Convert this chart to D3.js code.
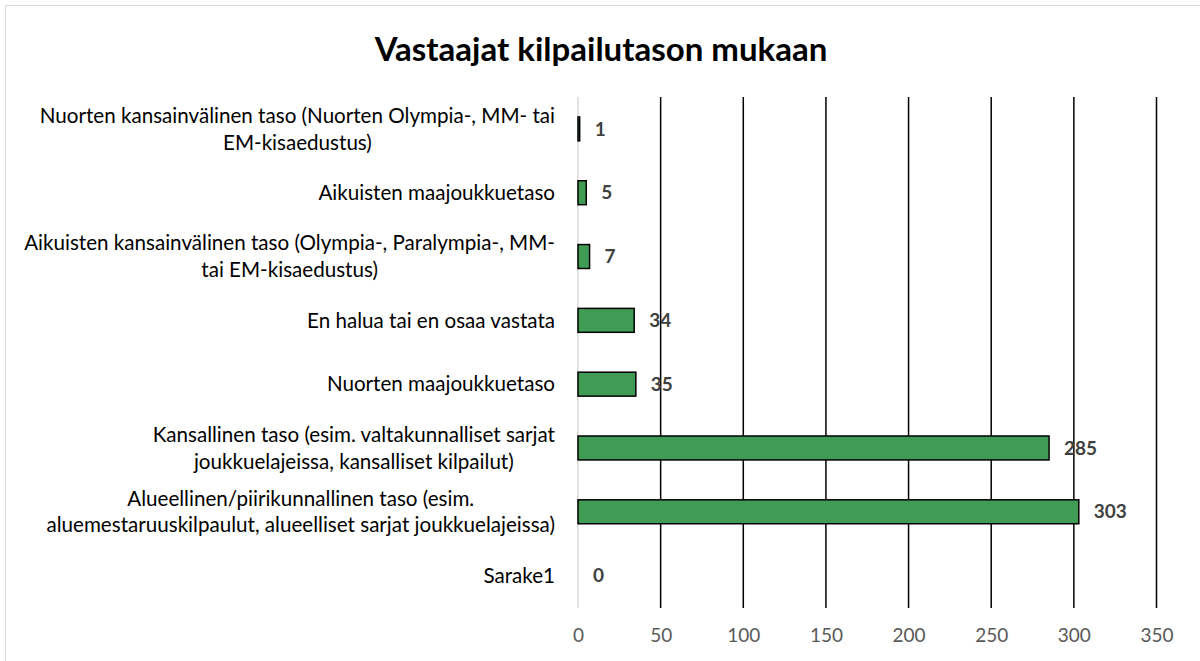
<!DOCTYPE html>
<html>
<head>
<meta charset="utf-8">
<script src="https://cdn.jsdelivr.net/npm/d3@7"></script>
<style>
  body { margin: 0; background: #fff; }
  svg { display: block; font-family: Lato, "Open Sans", sans-serif; }
</style>
</head>
<body>
<svg id="chart"></svg>
<script>
var categories = [
    ["Nuorten kansainvälinen taso (Nuorten Olympia-, MM- tai", "EM-kisaedustus)"],
    ["Aikuisten maajoukkuetaso"],
    ["Aikuisten kansainvälinen taso (Olympia-, Paralympia-, MM-", "tai EM-kisaedustus)"],
    ["En halua tai en osaa vastata"],
    ["Nuorten maajoukkuetaso"],
    ["Kansallinen taso (esim. valtakunnalliset sarjat", "joukkuelajeissa, kansalliset kilpailut)"],
    ["Alueellinen/piirikunnallinen taso (esim.", "aluemestaruuskilpaulut, alueelliset sarjat joukkuelajeissa)"],
    ["Sarake1"]
];
var values = [1, 5, 7, 34, 35, 285, 303, 0];
var xTicks = [0, 50, 100, 150, 200, 250, 300, 350];
var title = "Vastaajat kilpailutason mukaan";

var width = 1200,
    height = 661,
    margin = {top: 97, right: 43, bottom: 53, left: 578};

var svg = d3.select("#chart")
    .attr("width", width)
    .attr("height", height);

// chart frame
svg.append("rect")
    .attr("x", 5.5).attr("y", 5.5)
    .attr("width", width + 20).attr("height", height + 20)
    .attr("fill", "#fff")
    .attr("stroke", "#d9d9d9");

svg.append("text")
    .attr("x", 601)
    .attr("y", 61)
    .attr("text-anchor", "middle")
    .style("font-size", "33px")
    .style("font-weight", "bold")
    .attr("fill", "#000")
    .text(title);

var innerwidth = width - margin.left - margin.right,
    innerheight = height - margin.top - margin.bottom;

var g = svg.append("g")
    .attr("transform", "translate(" + margin.left + "," + margin.top + ")");

var xScale = d3.scaleLinear()
    .domain([0, 350])
    .range([0, innerwidth - 0.5]);

var yScale = d3.scaleBand()
    .domain(d3.range(categories.length))
    .range([0, innerheight - 0.5])
    .paddingInner(0.625)
    .paddingOuter(0.3125);

// gridlines
g.selectAll(".grid")
    .data(xTicks.slice(1))
    .enter().append("line")
    .attr("class", "grid")
    .attr("x1", function(d) { return xScale(d); })
    .attr("x2", function(d) { return xScale(d); })
    .attr("y1", 0)
    .attr("y2", innerheight)
    .attr("stroke", "#000")
    .attr("stroke-width", 1.5);

// x axis labels
var xAxis = d3.axisBottom(xScale)
    .tickValues(xTicks)
    .tickSize(0)
    .tickPadding(21);

var xg = g.append("g")
    .attr("transform", "translate(0," + innerheight + ")")
    .call(xAxis);
xg.select(".domain").remove();
xg.selectAll("text")
    .style("font-size", "19px")
    .style("font-family", "Lato, sans-serif")
    .attr("fill", "#595959");

// vertical axis line
g.append("line")
    .attr("x1", 0).attr("x2", 0)
    .attr("y1", 0).attr("y2", innerheight)
    .attr("stroke", "#d9d9d9")
    .attr("stroke-width", 1.5);

// bars (the zero value draws nothing)
g.selectAll(".bar")
    .data(values)
    .enter().append("rect")
    .attr("class", "bar")
    .attr("x", xScale(0))
    .attr("y", function(d, i) { return yScale(i); })
    .attr("width", function(d) { return xScale(d) - xScale(0); })
    .attr("height", yScale.bandwidth())
    .attr("fill", "#409b55")
    .attr("stroke", "#000")
    .attr("stroke-width", 1.5)
    .style("display", function(d) { return d > 0 ? null : "none"; });

// value labels
g.selectAll(".val")
    .data(values)
    .enter().append("text")
    .attr("class", "val")
    .attr("x", function(d) { return xScale(d) + 15; })
    .attr("y", function(d, i) { return yScale(i) + yScale.bandwidth() / 2; })
    .attr("dy", "0.35em")
    .style("font-size", "19px")
    .style("font-weight", "bold")
    .attr("fill", "#404040")
    .text(function(d) { return d; });

// category labels, multi-line blocks centred on each other, right aligned
var lineGap = 27,
    labelRight = -23;
var cat = g.selectAll(".cat")
    .data(categories)
    .enter().append("g")
    .attr("class", "cat")
    .attr("transform", function(d, i) {
        return "translate(0," + (yScale(i) + yScale.bandwidth() / 2) + ")";
    });

cat.each(function(lines) {
    var el = d3.select(this);
    var texts = el.selectAll("text")
        .data(lines)
        .enter().append("text")
        .attr("y", function(d, j) { return (j - (lines.length - 1) / 2) * lineGap; })
        .attr("dy", "0.35em")
        .attr("text-anchor", "middle")
        .style("font-size", "20.6px")
        .attr("fill", "#000")
        .text(function(d) { return d; });
    var w = 0;
    texts.each(function() { w = Math.max(w, this.getComputedTextLength()); });
    texts.attr("x", labelRight - w / 2);
});
</script>
</body>
</html>
